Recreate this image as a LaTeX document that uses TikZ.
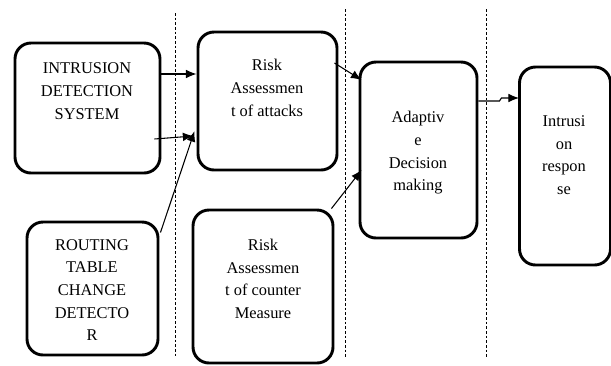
\documentclass[tikz,border=0pt]{standalone}
\usepackage{fontspec}
\setmainfont{Liberation Serif}
\usepackage{tikz}
\usetikzlibrary{calc,positioning,arrows.meta}

\begin{document}
\begin{tikzpicture}[x=0.75pt, y=-0.75pt,
  blk/.style={draw, rounded corners=12pt, line width=2.2pt, inner sep=0pt},
  txt/.style={align=center, font=\fontsize{12.3}{17}\selectfont, inner sep=0pt},
  arr/.style={-{Latex[length=8pt,width=6.5pt]}, line width=0.8pt},
  sep/.style={dash pattern=on 2pt off 1.5pt, line width=0.6pt}]
  \useasboundingbox (0,0) rectangle (611,365);
  % boxes
  \node[blk, minimum width=108.75pt, minimum height=97.5pt] (ids) at (87.5,108) {};
  \node[blk, minimum width=104.25pt, minimum height=103.5pt] (risk) at (267.5,101) {};
  \node[blk, minimum width=98.25pt, minimum height=99.75pt] (rtcd) at (92.5,288.5) {};
  \node[blk, minimum width=105pt, minimum height=114.75pt] (cm) at (263,286.5) {};
  \node[blk, minimum width=87.75pt, minimum height=132pt] (adapt) at (418.5,150) {};
  \node[blk, minimum width=68.25pt, minimum height=148.5pt] (resp) at (565,166) {};
  % texts
  \node[txt] (idst) at (87,91) {INTRUSION\\DETECTION\\SYSTEM};
  \node[txt] (riskt) at (267,88) {Risk\\Assessmen\\t of attacks};
  \node[txt] (rtcdt) at (92,290) {ROUTING\\TABLE\\CHANGE\\DETECTO\\R};
  \node[txt] (cmt) at (263,279) {Risk\\Assessmen\\t of counter\\Measure};
  \node[txt] (adaptt) at (418,153) {Adaptiv\\e\\Decision\\making};
  \node[txt] (respt) at (564,155) {Intrusi\\on\\respon\\se};
  % separators
  \coordinate (s1a) at (175,13); \coordinate (s1b) at (175,358);
  \coordinate (s2a) at (345,9);  \coordinate (s2b) at (345,358);
  \coordinate (s3a) at (486,9);  \coordinate (s3b) at (486,358);
  \draw[sep] (s1a) -- (s1b);
  \draw[sep] (s2a) -- (s2b);
  \draw[sep] (s3a) -- (s3b);
  % arrows
  \draw[arr] ($(ids.east)+(0,-34)$) -- ($(risk.west)+(0,-27)$);
  \draw[arr] ($(ids.east)+(-7,31)$) -- ($(risk.west)+(-3,35)$);
  \draw[arr] ($(rtcd.east)+(1,-56)$) -- ($(risk.west)+(-2,30)$);
  \draw[arr] ($(risk.east)+(-4,-38)$) -- ($(adapt.west)+(3,-70)$);
  \draw[arr] ($(cm.north east)+(-3,0)$) -- ($(adapt.west)+(3,20)$);
  \draw[arr] ($(adapt.east)+(0,-49)$) -- ++(21,0) -- ++(2,-3) -- ($(resp.west)+(1,-68)$);
\end{tikzpicture}
\end{document}
